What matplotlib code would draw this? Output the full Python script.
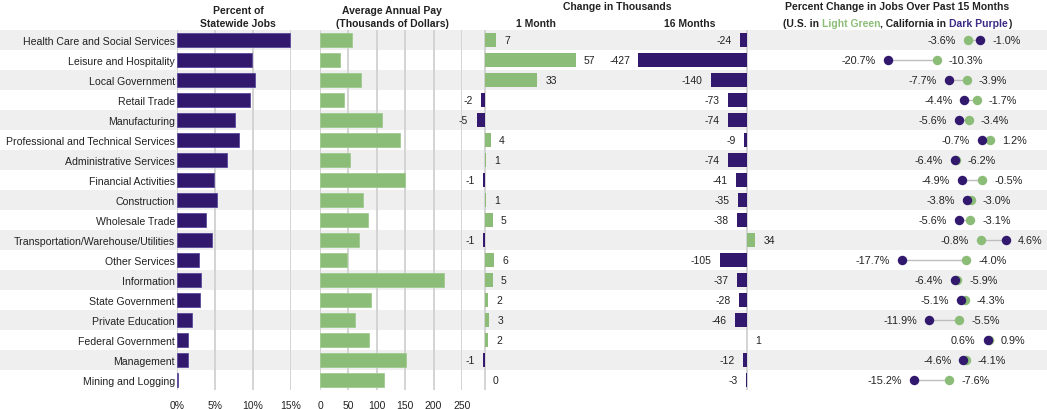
# California jobs by industry: share, pay, change and US/CA percent change
import numpy as np
import matplotlib
matplotlib.use("Agg")
import matplotlib.pyplot as plt
from matplotlib.offsetbox import TextArea, HPacker, AnnotationBbox

# -----------------------------------------------------------------------------
# DATA
# -----------------------------------------------------------------------------

industries = [
    "Health Care and Social Services", "Leisure and Hospitality", "Local Government",
    "Retail Trade", "Manufacturing", "Professional and Technical Services",
    "Administrative Services", "Financial Activities", "Construction",
    "Wholesale Trade", "Transportation/Warehouse/Utilities", "Other Services",
    "Information", "State Government", "Private Education", "Federal Government",
    "Management", "Mining and Logging",
]

pct_statewide_jobs = [14.9, 9.9, 10.2, 9.6, 7.6, 8.2, 6.6, 4.9, 5.3,
                      3.8, 4.6, 2.9, 3.2, 3.0, 2.0, 1.4, 1.4, 0.1]

avg_pay_thousands = [57, 35, 73, 42, 110, 141, 53, 150, 76,
                     85, 69, 48, 218, 89, 62, 87, 151, 113]

change_1_month = [7, 57, 33, -2, -5, 4, 1, -1, 1, 5, -1, 6, 5, 2, 3, 2, -1, 0]

change_16_months = [-24, -427, -140, -73, -74, -9, -74, -41, -35,
                    -38, 34, -105, -37, -28, -46, 1, -12, -3]

us_pct_change = [-3.6, -10.3, -3.9, -1.7, -3.4, 1.2, -6.2, -0.5, -3.0,
                 -3.1, -0.8, -4.0, -5.9, -4.3, -5.5, 0.9, -4.1, -7.6]
ca_pct_change = [-1.0, -20.7, -7.7, -4.4, -5.6, -0.7, -6.4, -4.9, -3.8,
                 -5.6, 4.6, -17.7, -6.4, -5.1, -11.9, 0.6, -4.6, -15.2]

pct_ticks = [0, 5, 10, 15]
pct_tick_labels = ["0%", "5%", "10%", "15%"]
pay_ticks = [0, 50, 100, 150, 200, 250]

# -----------------------------------------------------------------------------
# STYLE / LAYOUT
# -----------------------------------------------------------------------------

W, H = 1047, 410
ROW_TOP, ROW_BOT = 31, 391          # pixel rows of the table body

PURPLE = "#33196e"
PURPLE_EDGE = "#5b4a9b"
GREEN = "#8bbd78"
GRID = "#d4d4d4"
BAND = "#efefef"
TXT = "#222222"

plt.rcParams["font.family"] = ["Liberation Sans", "DejaVu Sans"]

n = len(industries)
rows = np.arange(n)

fig = plt.figure(figsize=(W / 100, H / 100), dpi=100)


def panel(x0, x1):
    ax = fig.add_axes([x0 / W, 1 - ROW_BOT / H, (x1 - x0) / W, (ROW_BOT - ROW_TOP) / H])
    ax.set_facecolor("none")
    ax.set_zorder(2)
    for s in ax.spines.values():
        s.set_visible(False)
    ax.set_ylim(n - 0.5, -0.5)
    ax.set_yticks([])
    ax.tick_params(length=0, labelsize=7.5, colors=TXT)
    ax.tick_params(axis="x", pad=7.5)
    return ax


def pixel_xlim(ax, x0, x1, zero_px, px_per_unit):
    ax.set_xlim((x0 - zero_px) / px_per_unit, (x1 - zero_px) / px_per_unit)


def bar_labels(ax, values, fmt="{}"):
    for i, v in enumerate(values):
        off, ha = (6, "left") if v >= 0 else (-6, "right")
        ax.annotate(fmt.format(v), xy=(v, i), xytext=(off, 0), textcoords="offset points",
                    ha=ha, va="center", fontsize=7.5, color=TXT)


# background stripes across the whole width
bg = fig.add_axes([0, 1 - ROW_BOT / H, 1, (ROW_BOT - ROW_TOP) / H])
bg.set_zorder(0)
bg.axis("off")
bg.set_xlim(0, 1)
bg.set_ylim(n - 0.5, -0.5)
for i in range(0, n, 2):
    bg.axhspan(i - 0.5, i + 0.5, color=BAND, lw=0)

# -----------------------------------------------------------------------------
# PANEL 1 — percent of statewide jobs
# -----------------------------------------------------------------------------

ax1 = panel(177, 291)
ax1.set_xlim(0, 15)
ax1.set_xticks(pct_ticks)
ax1.set_xticklabels(pct_tick_labels)
ax1.xaxis.grid(True, color=GRID, lw=1.4)
ax1.set_axisbelow(True)
ax1.barh(rows, pct_statewide_jobs, height=0.66, color=PURPLE, edgecolor=PURPLE_EDGE, lw=0.6)
ax1.set_yticks(rows)
ax1.set_yticklabels(industries, fontsize=7.6)
ax1.tick_params(axis="y", pad=1.5)

# -----------------------------------------------------------------------------
# PANEL 2 — average annual pay
# -----------------------------------------------------------------------------

ax2 = panel(320, 462)
ax2.set_xlim(0, 250)
ax2.set_xticks(pay_ticks)
ax2.xaxis.grid(True, color=GRID, lw=1.4)
ax2.set_axisbelow(True)
ax2.barh(rows, avg_pay_thousands, height=0.66, color=GREEN, edgecolor="#9fcb8f", lw=0.6)

# -----------------------------------------------------------------------------
# PANELS 3 & 4 — change in thousands
# -----------------------------------------------------------------------------

ax3 = panel(466, 600)
pixel_xlim(ax3, 466, 600, 484.5, 1.6)
ax3.set_xticks([])
ax3.axvline(0, color=GRID, lw=1.4, zorder=1)
ax3.barh(rows, change_1_month, height=0.66,
         color=[GREEN if v >= 0 else PURPLE for v in change_1_month], zorder=2)
bar_labels(ax3, change_1_month)

ax4 = panel(600, 775)
pixel_xlim(ax4, 600, 775, 746.5, 0.253)
ax4.set_xticks([])
ax4.axvline(0, color=GRID, lw=1.4, zorder=1)
ax4.barh(rows, change_16_months, height=0.66,
         color=[GREEN if v >= 0 else PURPLE for v in change_16_months], zorder=2)
bar_labels(ax4, change_16_months)

# -----------------------------------------------------------------------------
# PANEL 5 — dumbbell, US vs California
# -----------------------------------------------------------------------------

ax5 = panel(775, 1047)
pixel_xlim(ax5, 775, 1047, 984.8, 4.675)
ax5.set_xticks([])
lo = np.minimum(us_pct_change, ca_pct_change)
hi = np.maximum(us_pct_change, ca_pct_change)
ax5.hlines(rows, lo, hi, color="#bdbdbd", lw=1, zorder=1)
ax5.plot(us_pct_change, rows, "o", color=GREEN, ms=6.8, mew=0, zorder=2)
ax5.plot(ca_pct_change, rows, "o", color=PURPLE, ms=6.8, mew=0, zorder=3)
for i in rows:
    ax5.annotate(f"{lo[i]:.1f}%", xy=(lo[i], i), xytext=(-8.6, 0), textcoords="offset points",
                 ha="right", va="center", fontsize=7.8, color=TXT)
    ax5.annotate(f"{hi[i]:.1f}%", xy=(hi[i], i), xytext=(8.6, 0), textcoords="offset points",
                 ha="left", va="center", fontsize=7.8, color=TXT)

# -----------------------------------------------------------------------------
# HEADERS
# -----------------------------------------------------------------------------

def header(x, y, s):
    fig.text(x / W, 1 - y / H, s, ha="center", va="center",
             fontsize=7.5, fontweight="bold", color=TXT)

header(238, 10.5, "Percent of")
header(238, 24, "Statewide Jobs")
header(392, 10.5, "Average Annual Pay")
header(392, 24, "(Thousands of Dollars)")
header(617, 7.5, "Change in Thousands")
header(536, 24, "1 Month")
header(690, 24, "16 Months")
header(897, 7.5, "Percent Change in Jobs Over Past 15 Months")

parts = [("(U.S. in ", TXT), ("Light Green", GREEN), (", California in ", TXT),
         ("Dark Purple", "#3d2a86"), (")", TXT)]
pack = HPacker(children=[TextArea(s, textprops=dict(color=c, fontsize=7.5, fontweight="bold"))
                         for s, c in parts], align="baseline", pad=0, sep=0)
fig.add_artist(AnnotationBbox(pack, (897 / W, 1 - 24 / H), xycoords="figure fraction",
                              frameon=False, box_alignment=(0.5, 0.5), pad=0))

fig.savefig("out.png", dpi=100)
